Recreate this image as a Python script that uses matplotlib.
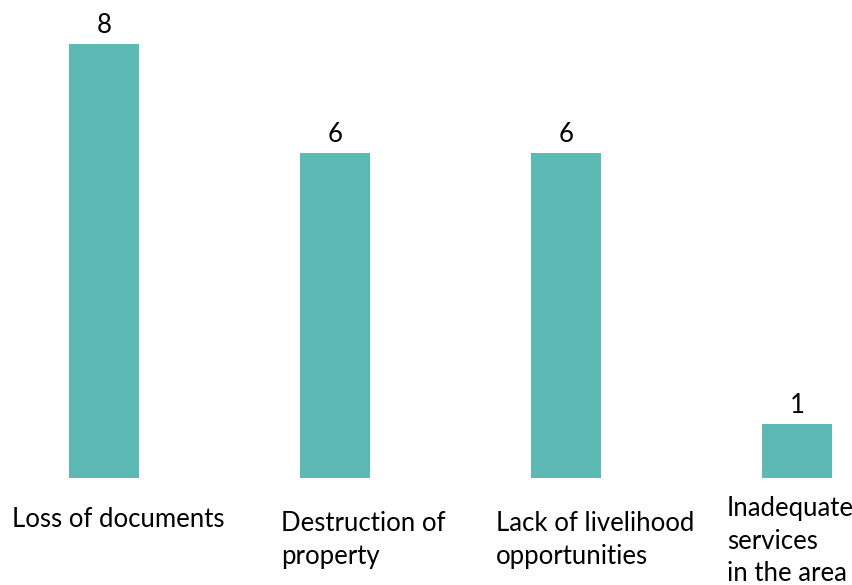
import matplotlib
matplotlib.use("Agg")
import matplotlib.pyplot as plt

# data
categories = ["Loss of documents", "Destruction of\nproperty",
              "Lack of livelihood\nopportunities", "Inadequate\nservices\nin the area"]
values = [8, 6, 6, 1]

bar_color = "#5cb9b3"
plt.rcParams['font.family'] = ['Lato', 'DejaVu Sans']

fig = plt.figure(figsize=(8.53, 5.85), dpi=100)
ax = fig.add_axes([0, 107/585, 1, 478/585])

x = list(range(len(values)))
bars = ax.bar(x, values, width=0.303, color=bar_color)
ax.set_xlim(-0.450, 3.242)
ax.set_ylim(0, 478/54.25)
ax.axis('off')

for b, v in zip(bars, values):
    ax.annotate(str(v), (b.get_x() + b.get_width()/2, v), xytext=(0, 4),
                textcoords='offset points', ha='center', va='bottom', fontsize=18.5)

# category labels, placed by hand like the original
label_pos = [(12, 507), (281, 511), (496, 511), (727, 496)]
for lab, (px, py) in zip(categories, label_pos):
    fig.text(px/853, 1 - py/585, lab, ha='left', va='top', fontsize=18.5,
             linespacing=1.38)

fig.savefig("out.png", dpi=100)
